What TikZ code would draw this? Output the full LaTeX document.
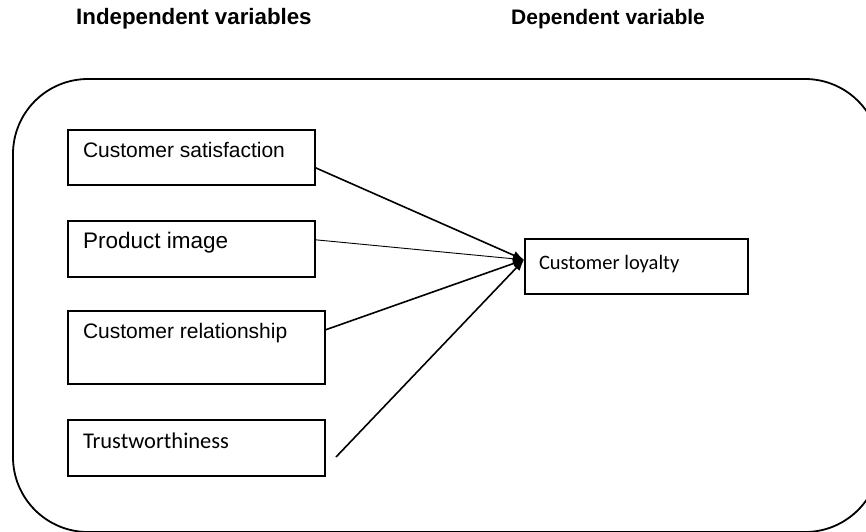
\documentclass[tikz,border=0pt]{standalone}
\usepackage{fontspec}
\setmainfont{Liberation Sans}
\newfontfamily\calibri{Carlito}
\usetikzlibrary{arrows.meta}
\begin{document}
\begin{tikzpicture}[x=1pt,y=-1pt,
  box/.style={draw,line width=1.6pt,rectangle,anchor=north west,inner sep=0pt},
  txt/.style={anchor=base west,inner sep=0pt,outer sep=0pt},
  conn/.style={line width=1.6pt,-{Latex[length=11pt,width=9pt]}},
  title/.style={anchor=base west,inner sep=0pt,font=\bfseries}]
\useasboundingbox (0,0) rectangle (866,531);
\clip (0,0) rectangle (866,531);
% frame
\node[draw,line width=1.8pt,rounded corners=75pt,minimum width=867pt,minimum height=453pt,inner sep=0pt] (frame) at (446.5,305.5) {};
% titles
\node[title] (t1) at (76,24) {\fontsize{22.3}{26}\selectfont Independent variables};
\node[title] (t2) at (511,24) {\fontsize{21}{25}\selectfont Dependent variable};
% boxes
\node[box,minimum width=247pt,minimum height=55pt] (b1) at (67,129) {};
\node[box,minimum width=247pt,minimum height=56pt] (b2) at (67,220) {};
\node[box,minimum width=257pt,minimum height=73pt] (b3) at (67,310) {};
\node[box,minimum width=257pt,minimum height=56pt] (b4) at (67,419) {};
\node[box,minimum width=223pt,minimum height=55pt] (loy) at (524,238) {};
% texts
\node[txt] (l1) at (83,157) {\fontsize{21}{25}\selectfont Customer satisfaction};
\node[txt] (l2) at (83,248) {\fontsize{22.5}{26}\selectfont Product image};
\node[txt] (l3) at (83,338) {\fontsize{21}{25}\selectfont Customer relationship};
\node[txt] (l4) at (83,448) {\calibri\fontsize{22.5}{26}\selectfont Trustworthiness};
\node[txt] (l5) at (539,269) {\calibri\fontsize{20.5}{24}\selectfont Customer loyalty};
% connectors
\coordinate (tip) at ([yshift=6.5pt]loy.west);
\coordinate (tfree) at (336,457);
\draw[conn] ([yshift=-10.5pt]b1.east) -- (tip);
\draw[conn,line width=0.9pt] ([yshift=9pt]b2.east) -- (tip);
\draw[conn] ([yshift=17.5pt]b3.east) -- (tip);
\draw[conn] (tfree) -- (tip);
\end{tikzpicture}
\end{document}
